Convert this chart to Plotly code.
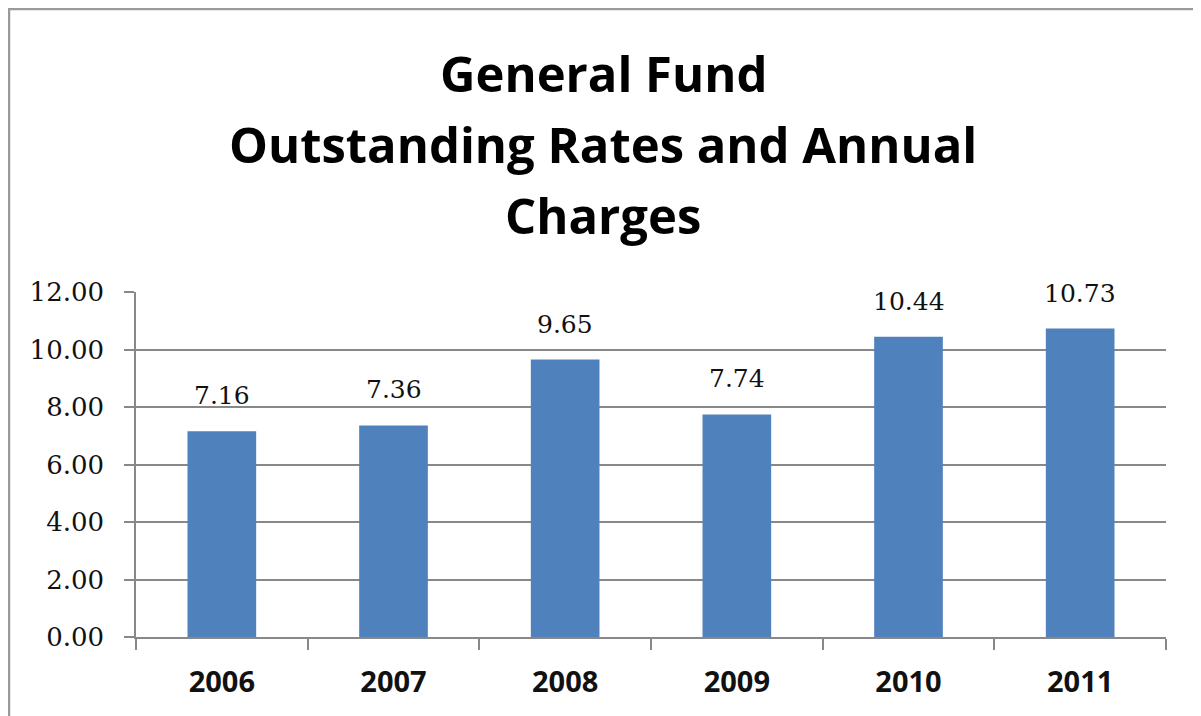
import plotly.graph_objects as go

years = ["2006", "2007", "2008", "2009", "2010", "2011"]
values = [7.16, 7.36, 9.65, 7.74, 10.44, 10.73]
y_ticks = [0, 2, 4, 6, 8, 10, 12]
y_tick_labels = ["0.00", "2.00", "4.00", "6.00", "8.00", "10.00", "12.00"]
title_lines = ["General Fund", "Outstanding Rates and Annual", "Charges"]

OFF = 8  # page body margin
W, H = 1201 - OFF, 716 - OFF
L, R, T, B = 136 - OFF, 35, 292 - OFF, 79
plot_h = H - T - B
plot_w = W - L - R

def py(ypix):
    return (H - B - (ypix - OFF)) / plot_h

def px(xpix):
    return ((xpix - OFF) - L) / plot_w

fig = go.Figure()
fig.add_trace(go.Bar(x=years, y=values, marker=dict(color="#4F81BD", line=dict(width=0)),
                     hoverinfo="skip"))

for i, v in enumerate(values):
    fig.add_annotation(x=i, y=v, text=f"{v:.2f}", showarrow=False, yanchor="bottom",
                       yshift=19, font=dict(family="DejaVu Serif", size=25, color="#111"))

for line, ypix in zip(title_lines, [73, 144, 215]):
    fig.add_annotation(xref="paper", yref="paper", x=px(603), y=py(ypix), text=f"<b>{line}</b>",
                       showarrow=False, xanchor="center", yanchor="middle",
                       font=dict(family="Open Sans", size=49, color="#000"))

fig.add_shape(type="rect", xref="paper", yref="paper", x0=px(9), x1=px(1215), y0=py(9), y1=py(730),
              line=dict(color="#9a9a9a", width=2.5), fillcolor="rgba(0,0,0,0)", layer="below")

fig.update_layout(
    width=W, height=H,
    margin=dict(l=L, r=R, t=T, b=B, autoexpand=False),
    paper_bgcolor="white", plot_bgcolor="white",
    showlegend=False, bargap=0.6,
    xaxis=dict(type="category", range=[-0.5, 5.5], autorange=False, automargin=False,
               showgrid=False, showline=True, linecolor="#888", linewidth=1.5,
               ticks="outside", tickson="boundaries", ticklen=11, tickcolor="#888", tickwidth=1.5,
               tickangle=0,
               tickfont=dict(family="Open Sans", size=29, color="#111", weight="bold"),
               ticklabelstandoff=18),
    yaxis=dict(range=[0, 12], autorange=False, automargin=False, tickvals=y_ticks,
               ticktext=y_tick_labels, showgrid=True,
               gridcolor="#888", gridwidth=1.5, showline=True, linecolor="#888", linewidth=1.5,
               ticks="outside", ticklen=10, tickcolor="#888", tickwidth=1.5, zeroline=False,
               tickfont=dict(family="DejaVu Serif", size=26, color="#111"),
               ticklabelstandoff=15),
)

fig.write_html("out.html")
